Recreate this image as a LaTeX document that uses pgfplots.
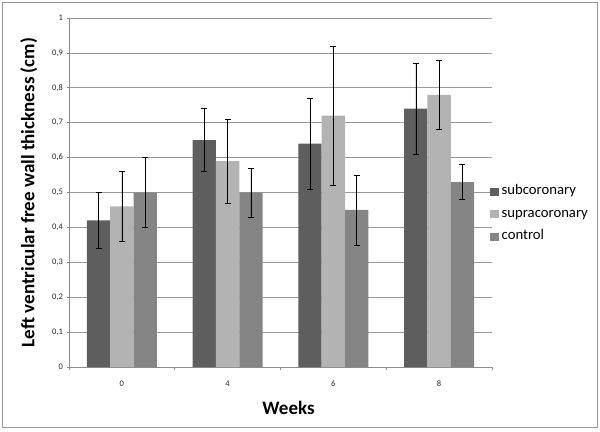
\documentclass[border=0pt]{standalone}
\usepackage{fontspec}
\setmainfont{Carlito}
\usepackage{pgfplots}
\pgfplotsset{compat=1.18}
\definecolor{csub}{HTML}{5E5E5E}
\definecolor{csup}{HTML}{B3B3B3}
\definecolor{cctl}{HTML}{858585}
\begin{document}
\begin{tikzpicture}[x=1bp,y=1bp]
\useasboundingbox (0,0) rectangle (600,431);
\draw[color=black!40, line width=0.8bp] (2,3.5) rectangle (597.5,429);
\begin{axis}[
  at={(69bp,64bp)}, anchor=south west,
  scale only axis, width=423bp, height=349bp,
  xmin=-0.5, xmax=3.5, ymin=0, ymax=1,
  axis x line*=bottom, axis y line*=left,
  axis line style={black!45, line width=0.6bp},
  ybar=0pt, bar width=23.3bp,
  xtick={0,1,2,3}, xticklabels={0,4,6,8},
  minor xtick={-0.5,0.5,1.5,2.5,3.5},
  major x tick style={draw=none},
  minor x tick style={black!45, line width=0.6bp},
  tick align=outside, minor tick length=3bp, major tick length=2.5bp,
  y tick style={black!45, line width=0.6bp},
  ytick={0,0.1,0.2,0.3,0.4,0.5,0.6,0.7,0.8,0.9,1},
  yticklabels={0,{0,1},{0,2},{0,3},{0,4},{0,5},{0,6},{0,7},{0,8},{0,9},1},
  ymajorgrids, grid style={black!40, line width=0.6bp},
  /pgf/number format/assume math mode=true,
  tick label style={font=\fontsize{8.5bp}{10bp}\selectfont, text=black!85},
  xticklabel style={yshift=-8bp},
  ylabel={\textbf{Left ventricular free wall thickness (cm)}},
  ylabel style={at={(axis description cs:-0.095,0.5)}, anchor=center, font=\fontsize{19bp}{21bp}\selectfont},
  xlabel={\textbf{Weeks}},
  xlabel style={at={(axis description cs:0.519,-0.1175)}, anchor=center, font=\fontsize{19bp}{21bp}\selectfont},
  legend style={at={(axis description cs:1,0.438)}, anchor=west, xshift=-5bp, draw=none, fill=none,
    font=\fontsize{14.7bp}{16bp}\selectfont, row sep=5.5bp,
    nodes={text height=9bp, text depth=3bp, inner sep=2.5bp}},
  legend cell align=left,
  legend image code/.code={\fill[#1] (0bp,-4bp) rectangle (9bp,4bp);},
  error bars/y dir=both, error bars/y explicit,
  error bars/error bar style={black, line width=0.6bp},
  error bars/error mark options={rotate=90, mark size=3bp, black, line width=0.6bp},
]
\addplot[fill=csub, draw=none] coordinates {
  (0,0.42) +- (0,0.08)
  (1,0.65) +- (0,0.09)
  (2,0.64) +- (0,0.13)
  (3,0.74) +- (0,0.13)
};
\addplot[fill=csup, draw=none] coordinates {
  (0,0.46) +- (0,0.10)
  (1,0.59) +- (0,0.12)
  (2,0.72) +- (0,0.20)
  (3,0.78) +- (0,0.10)
};
\addplot[fill=cctl, draw=none] coordinates {
  (0,0.50) +- (0,0.10)
  (1,0.50) +- (0,0.07)
  (2,0.45) +- (0,0.10)
  (3,0.53) +- (0,0.05)
};
\legend{subcoronary,supracoronary,control}
\end{axis}
\end{tikzpicture}
\end{document}
